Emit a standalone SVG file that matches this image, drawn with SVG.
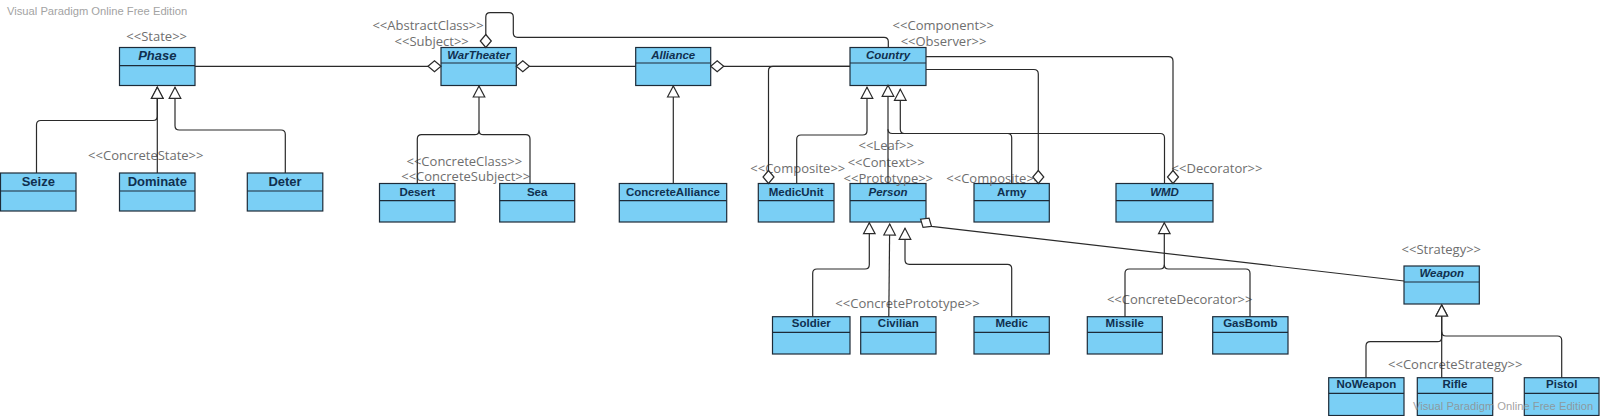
<svg xmlns="http://www.w3.org/2000/svg" width="1600" height="416" viewBox="0 0 1600 416">
<defs>
<style>
.box{fill:#7acff5;stroke:#1d2b38;stroke-width:1.2}
.div{stroke:#1d2b38;stroke-width:1.2}
.t{font-family:"Liberation Sans",Arial,sans-serif;font-weight:bold;font-size:11.5px;fill:#10304f;text-anchor:middle}
.tl{font-size:13px}
.i{font-style:italic}
.st{font-family:"Open Sans","DejaVu Sans",sans-serif;font-size:13px;fill:#6e6e6e;text-anchor:middle}
.wm{font-family:"Liberation Sans",Arial,sans-serif;font-size:11.2px;fill:#a3a3a3}
.c{fill:none;stroke:#2a2a2a;stroke-width:1.2}
.g{marker-end:url(#gen)}
.a{marker-end:url(#dia)}
</style>
<marker id="gen" viewBox="0 0 14 13" markerWidth="14" markerHeight="13" refX="12.5" refY="6.5" orient="auto" markerUnits="userSpaceOnUse" overflow="visible">
<path d="M1.5,0.7 L12.5,6.5 L1.5,12.3 Z" fill="#fff" stroke="#2a2a2a" stroke-width="1.2"/>
</marker>
<marker id="dia" viewBox="0 0 14 12" markerWidth="14" markerHeight="12" refX="13" refY="6" orient="auto" markerUnits="userSpaceOnUse" overflow="visible">
<path d="M0,6 L6.5,0.5 L13,6 L6.5,11.5 Z" fill="#fff" stroke="#2a2a2a" stroke-width="1.2"/>
</marker>
</defs>
<rect width="1600" height="416" fill="#fff"/>
<text class="wm" x="7" y="14.5">Visual Paradigm Online Free Edition</text>

<g id="Phase"><rect class="box" x="119.5" y="47.5" width="75.5" height="38"/><line class="div" x1="119.5" y1="65.7" x2="195" y2="65.7"/><text class="t tl i" x="157.3" y="60">Phase</text><text class="st" x="156.7" y="41">&lt;&lt;State&gt;&gt;</text></g>
<g id="Seize"><rect class="box" x="0.5" y="173" width="75.5" height="38"/><line class="div" x1="0.5" y1="191" x2="76" y2="191"/><text class="t tl" x="38.3" y="186">Seize</text></g>
<g id="Dominate"><rect class="box" x="119.5" y="173" width="75.5" height="38"/><line class="div" x1="119.5" y1="191" x2="195" y2="191"/><text class="t tl" x="157.3" y="186">Dominate</text><text class="st" x="145.8" y="159.5">&lt;&lt;ConcreteState&gt;&gt;</text></g>
<g id="Deter"><rect class="box" x="247.3" y="173" width="75.5" height="38"/><line class="div" x1="247.3" y1="191" x2="322.8" y2="191"/><text class="t tl" x="285" y="186">Deter</text></g>

<g id="WarTheater"><rect class="box" x="441" y="47.5" width="75.3" height="38"/><line class="div" x1="441" y1="63" x2="516.3" y2="63"/><text class="t i" x="478.7" y="58.8">WarTheater</text><text class="st" x="428" y="30">&lt;&lt;AbstractClass&gt;&gt;</text><text class="st" x="431.7" y="46">&lt;&lt;Subject&gt;&gt;</text></g>
<g id="Desert"><rect class="box" x="379.5" y="183.5" width="75.5" height="38.5"/><line class="div" x1="379.5" y1="200.7" x2="455" y2="200.7"/><text class="t" x="417.3" y="195.6">Desert</text><text class="st" x="464.3" y="166">&lt;&lt;ConcreteClass&gt;&gt;</text><text class="st" x="465.7" y="181">&lt;&lt;ConcreteSubject&gt;&gt;</text></g>
<g id="Sea"><rect class="box" x="499.7" y="183.5" width="75" height="38.5"/><line class="div" x1="499.7" y1="200.7" x2="574.7" y2="200.7"/><text class="t" x="537.2" y="195.6">Sea</text></g>

<g id="Alliance"><rect class="box" x="635.7" y="47.5" width="75" height="38"/><line class="div" x1="635.7" y1="63" x2="710.7" y2="63"/><text class="t i" x="673.2" y="58.8">Alliance</text></g>
<g id="ConcreteAlliance"><rect class="box" x="619.3" y="183.5" width="107.4" height="38.5"/><line class="div" x1="619.3" y1="200.7" x2="726.7" y2="200.7"/><text class="t" x="673" y="195.6">ConcreteAlliance</text></g>

<g id="Country"><rect class="box" x="850" y="47.5" width="76" height="38"/><line class="div" x1="850" y1="63" x2="926" y2="63"/><text class="t i" x="888" y="58.8">Country</text><text class="st" x="943.3" y="30">&lt;&lt;Component&gt;&gt;</text><text class="st" x="943.5" y="46">&lt;&lt;Observer&gt;&gt;</text></g>
<g id="MedicUnit"><rect class="box" x="758.3" y="183.5" width="75.7" height="38.5"/><line class="div" x1="758.3" y1="200.7" x2="834" y2="200.7"/><text class="t" x="796.2" y="195.6">MedicUnit</text><text class="st" x="797.8" y="173.3">&lt;&lt;Composite&gt;&gt;</text></g>
<g id="Person"><rect class="box" x="850" y="183.5" width="76" height="38.5"/><line class="div" x1="850" y1="200.7" x2="926" y2="200.7"/><text class="t i" x="888" y="195.6">Person</text><text class="st" x="886.2" y="150.3">&lt;&lt;Leaf&gt;&gt;</text><text class="st" x="886.2" y="166.6">&lt;&lt;Context&gt;&gt;</text><text class="st" x="888.3" y="182.6">&lt;&lt;Prototype&gt;&gt;</text></g>
<g id="Army"><rect class="box" x="974" y="183.5" width="75.3" height="38.5"/><line class="div" x1="974" y1="200.7" x2="1049.3" y2="200.7"/><text class="t" x="1011.7" y="195.6">Army</text><text class="st" x="993.8" y="182.8">&lt;&lt;Composite&gt;&gt;</text></g>
<g id="WMD"><rect class="box" x="1116" y="183.5" width="97" height="38.5"/><line class="div" x1="1116" y1="200.7" x2="1213" y2="200.7"/><text class="t i" x="1164.5" y="195.6">WMD</text><text class="st" x="1217" y="172.6">&lt;&lt;Decorator&gt;&gt;</text></g>

<g id="Soldier"><rect class="box" x="772.5" y="316.7" width="77.5" height="37.3"/><line class="div" x1="772.5" y1="332.3" x2="850" y2="332.3"/><text class="t" x="811.3" y="326.5">Soldier</text></g>
<g id="Civilian"><rect class="box" x="860.7" y="316.7" width="75.3" height="37.3"/><line class="div" x1="860.7" y1="332.3" x2="936" y2="332.3"/><text class="t" x="898.3" y="326.5">Civilian</text><text class="st" x="907.5" y="307.6">&lt;&lt;ConcretePrototype&gt;&gt;</text></g>
<g id="Medic"><rect class="box" x="974" y="316.7" width="75.3" height="37.3"/><line class="div" x1="974" y1="332.3" x2="1049.3" y2="332.3"/><text class="t" x="1011.7" y="326.5">Medic</text></g>
<g id="Missile"><rect class="box" x="1087.3" y="316.7" width="75" height="37.3"/><line class="div" x1="1087.3" y1="332.3" x2="1162.3" y2="332.3"/><text class="t" x="1124.8" y="326.5">Missile</text><text class="st" x="1179.7" y="304.3">&lt;&lt;ConcreteDecorator&gt;&gt;</text></g>
<g id="GasBomb"><rect class="box" x="1212.7" y="316.7" width="75.3" height="37.3"/><line class="div" x1="1212.7" y1="332.3" x2="1288" y2="332.3"/><text class="t" x="1250.3" y="326.5">GasBomb</text></g>

<g id="Weapon"><rect class="box" x="1404" y="266" width="75.3" height="38"/><line class="div" x1="1404" y1="282" x2="1479.3" y2="282"/><text class="t i" x="1441.7" y="277.2">Weapon</text><text class="st" x="1441.3" y="254.3">&lt;&lt;Strategy&gt;&gt;</text></g>
<g id="NoWeapon"><rect class="box" x="1328.7" y="377.7" width="75.3" height="37.8"/><line class="div" x1="1328.7" y1="393.3" x2="1404" y2="393.3"/><text class="t" x="1366.3" y="388.2">NoWeapon</text></g>
<g id="Rifle"><rect class="box" x="1417.3" y="377.7" width="75.4" height="37.8"/><line class="div" x1="1417.3" y1="393.3" x2="1492.7" y2="393.3"/><text class="t" x="1455" y="388.2">Rifle</text><text class="st" x="1455.2" y="369.3">&lt;&lt;ConcreteStrategy&gt;&gt;</text></g>
<g id="Pistol"><rect class="box" x="1524.3" y="377.7" width="74.7" height="37.8"/><line class="div" x1="1524.3" y1="393.3" x2="1599" y2="393.3"/><text class="t" x="1561.7" y="388.2">Pistol</text></g>

<g id="connectors">
<path class="c a" d="M195,66.3 H441"/>
<path class="c a" d="M635.7,66.3 H516.3"/>
<path class="c a" d="M850,66.3 H710.7"/>
<path class="c a" d="M888.3,47.5 V41.6 Q888.3,37.3 884,37.3 H517.6 Q513.3,37.3 513.3,33 V17 Q513.3,12.7 509,12.7 H490.1 Q485.8,12.7 485.8,17 V47.5"/>
<path class="c a" d="M850,66.3 H773 Q768.5,66.3 768.5,70.8 V183.5"/>
<path class="c a" d="M926,69.5 H1033.8 Q1038.3,69.5 1038.3,74 V183.5"/>
<path class="c a" d="M926,56.7 H1168.5 Q1173,56.7 1173,61.2 V183.5"/>
<path class="c a" d="M1404,281 L931.5,226.3 L920.6,219.2"/>

<path class="c g" d="M36.5,173 V124.8 Q36.5,120.5 40.8,120.5 H153 Q157.3,120.5 157.3,116.2 V87.3"/>
<path class="c g" d="M157.3,173 V87.3"/>
<path class="c g" d="M285.3,173 V134.3 Q285.3,130 281,130 H179.3 Q175,130 175,125.7 V87.3"/>

<path class="c g" d="M417.3,183.5 V139 Q417.3,134.7 421.6,134.7 H474.7 Q479,134.7 479,130.4 V86"/>
<path class="c" d="M530,183.5 V139 Q530,134.7 525.7,134.7 H483.3 Q479,134.7 479,130.4"/>
<path class="c g" d="M673.3,183.5 V86"/>

<path class="c g" d="M796.7,183.5 V139.3 Q796.7,135 801,135 H862.7 Q867,135 867,130.7 V87.3"/>
<path class="c g" d="M888,183.5 V85.3"/>
<path class="c" d="M1011.7,183.5 V137.8 Q1011.7,133.5 1007.4,133.5 H892.3 Q888,133.5 888,129.2"/>
<path class="c g" d="M1164.5,183.5 V137.8 Q1164.5,133.5 1160.2,133.5 H904.6 Q900.3,133.5 900.3,129.2 V89.3"/>

<path class="c g" d="M812.7,316.7 V273.3 Q812.7,269 817,269 H865 Q869.3,269 869.3,264.7 V222.7"/>
<path class="c g" d="M888.8,316.7 L889.7,224"/>
<path class="c g" d="M1011.7,316.7 V268.6 Q1011.7,264.3 1007.4,264.3 H909.3 Q905,264.3 905,260 V228.3"/>

<path class="c g" d="M1125,316.7 V273.3 Q1125,269 1129.3,269 H1160 Q1164.3,269 1164.3,264.7 V222.7"/>
<path class="c" d="M1250,316.7 V273.3 Q1250,269 1245.7,269 H1168.6 Q1164.3,269 1164.3,264.7"/>

<path class="c g" d="M1366,377.7 V346 Q1366,341.7 1370.3,341.7 H1437.4 Q1441.7,341.7 1441.7,337.4 V305"/>
<path class="c g" d="M1441.7,377.7 V305"/>
<path class="c" d="M1561.7,377.7 V340.3 Q1561.7,336 1557.4,336 H1446 Q1441.7,336 1441.7,331.7"/>
</g>

<text class="wm" x="1413" y="409.5" fill-opacity="0.85" style="fill:#8f8f8f">Visual Paradigm Online Free Edition</text>
</svg>
